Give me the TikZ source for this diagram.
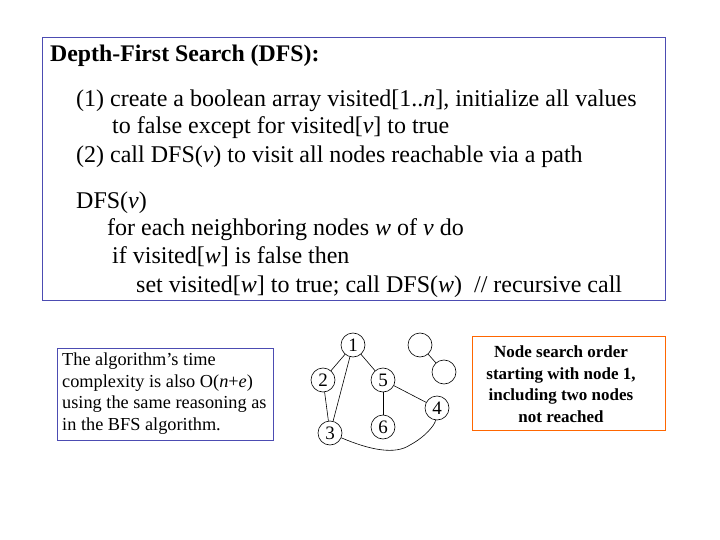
\documentclass[tikz,border=0pt]{standalone}
\usepackage{fontspec}
\setmainfont{Liberation Serif}
\begin{document}
\begin{tikzpicture}[x=1pt,y=-1pt,
  gnode/.style={circle,draw,line width=0.6pt,minimum size=24pt,inner sep=0pt,font=\fontsize{19}{19}\selectfont},
  edge/.style={line width=0.6pt},
  mt/.style={anchor=base west,inner sep=0pt,font=\fontsize{24}{24}\selectfont}]
\useasboundingbox (0,0) rectangle (720,540);
\node[draw=blue!40!gray,line width=0.8pt,minimum width=623pt,minimum height=263pt,anchor=north west] (main) at (42,37) {};
\node[anchor=base west,inner sep=0pt,font=\fontsize{23.8}{23.8}\selectfont\bfseries] (t) at (50,62) {Depth-First Search (DFS):};
\node[mt] (l1) at (76,107) {(1) create a boolean array visited[1..\textit{n}], initialize all values};
\node[mt] (l2) at (112,134) {to false except for visited[\textit{v}] to true};
\node[mt] (l3) at (76,163) {(2) call DFS(\textit{v}) to visit all nodes reachable via a path};
\node[mt] (l4) at (76,208) {DFS(\textit{v})};
\node[mt] (l5) at (107,236) {for each neighboring nodes \textit{w} of \textit{v} do};
\node[mt] (l6) at (112,263) {if visited[\textit{w}] is false then};
\node[mt] (l7) at (136,292) {set visited[\textit{w}] to true; call DFS(\textit{w})\ \ // recursive call};
\node[draw=blue!40!gray,line width=0.8pt,minimum width=216pt,minimum height=92pt,anchor=north west] (lb) at (57,348) {};
\node[anchor=north west,align=left,inner sep=0pt,font=\fontsize{18.3}{21.5}\selectfont] (lt) at (62,353) {The algorithm’s time\\complexity is also O(\textit{n}+\textit{e})\\using the same reasoning as\\in the BFS algorithm.};
\node[draw=orange!80!red,line width=0.8pt,minimum width=193pt,minimum height=94pt,anchor=north west] (rb) at (472,336) {};
\node[align=center,inner sep=0pt,font=\fontsize{17}{21.5}\selectfont\bfseries] (rt) at (561,384) {Node search order\\starting with node 1,\\including two nodes\\not reached};
\node[gnode] (n1) at (353,345) {1};
\node[gnode] (n2) at (323,380) {2};
\node[gnode] (n3) at (330,433) {3};
\node[gnode] (n5) at (383,380) {5};
\node[gnode] (n6) at (383,427) {6};
\node[gnode] (n4) at (437,408) {4};
\node[gnode] (e1) at (420,345) {};
\node[gnode] (e2) at (444,372) {};
\draw[edge] (n1)--(n2); \draw[edge] (n1)--(n3); \draw[edge] (n1)--(n5);
\draw[edge] (n2)--(n3); \draw[edge] (n5)--(n6); \draw[edge] (n5)--(n4);
\draw[edge] (e1)--(e2);
\draw[edge] (n3) .. controls (370,450) and (395,455) .. (410,445) .. controls (425,437) and (435,425) .. (n4);
\end{tikzpicture}
\end{document}
